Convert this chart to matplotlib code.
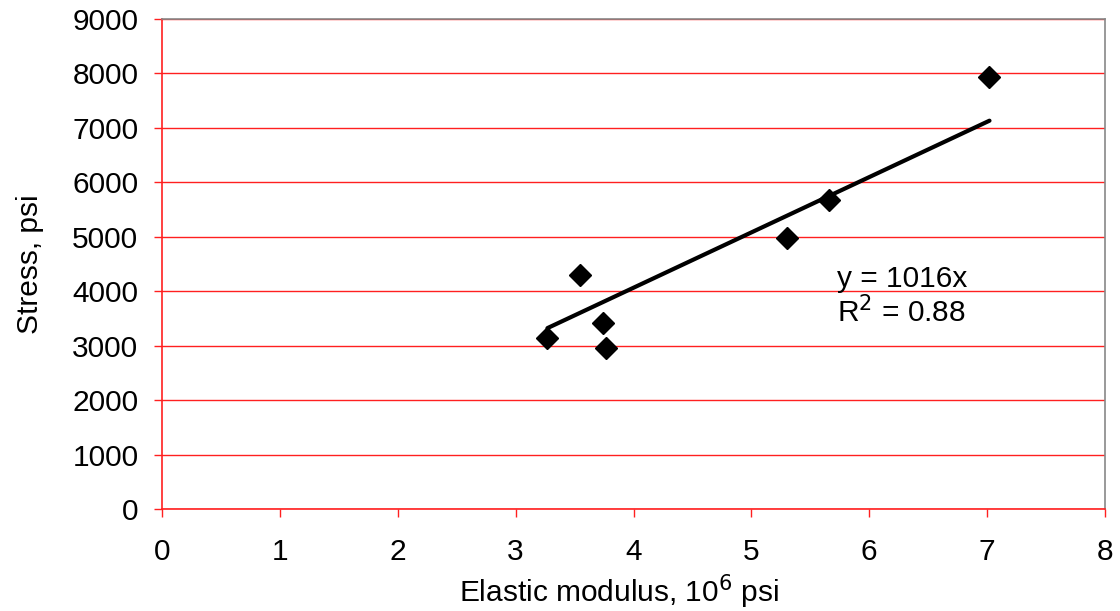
import numpy as np
import matplotlib.pyplot as plt

plt.rcParams['font.family'] = ['Liberation Sans', 'DejaVu Sans']

# elastic modulus (10^6 psi) and stress (psi)
modulus = [3.27, 3.55, 3.74, 3.77, 5.30, 5.66, 7.02]
stress = [3140, 4300, 3420, 2960, 4980, 5680, 7940]
slope = 1016
r_squared = 0.88

fig = plt.figure(figsize=(11.2, 6.11), dpi=100)
ax = fig.add_axes([162 / 1120, 1 - 509 / 611, (1105 - 162) / 1120, (509 - 19) / 611])

ax.set_xlim(0, 8)
ax.set_ylim(0, 9000)
ax.set_xticks(range(0, 9))
ax.set_yticks(range(0, 9001, 1000))

# red horizontal grid
ax.grid(axis='y', color='#ff2020', linewidth=1)
ax.set_axisbelow(True)

ax.spines['left'].set_color('#ff2020')
ax.spines['bottom'].set_color('#ff2020')
ax.spines['top'].set_color('#888888')
ax.spines['right'].set_color('#888888')
for s in ax.spines.values():
    s.set_linewidth(1.2)

fs = 21.5
ax.tick_params(axis='both', colors='#ff2020', labelcolor='black', labelsize=fs, length=6, width=1)
ax.tick_params(axis='x', pad=15)
ax.tick_params(axis='y', pad=11)

# fitted line through the origin
fit_x = np.array([min(modulus), max(modulus)])
ax.plot(fit_x, slope * fit_x, color='black', linewidth=3, solid_capstyle='round', zorder=3)

ax.plot(modulus, stress, linestyle='none', marker='D', markersize=11,
        color='black', zorder=4)

ax.text(5.73, 4070, f'y = {slope}x', fontsize=fs, va='baseline')
ax.text(5.73, 3420, f'R$^2$ = {r_squared}', fontsize=fs, va='baseline')

ax.set_xlabel('Elastic modulus, 10$^6$ psi', fontsize=fs)
ax.xaxis.set_label_coords(0.485, -0.13)
ax.set_ylabel('Stress, psi', fontsize=fs, labelpad=20)

fig.savefig('out.png', dpi=100)
